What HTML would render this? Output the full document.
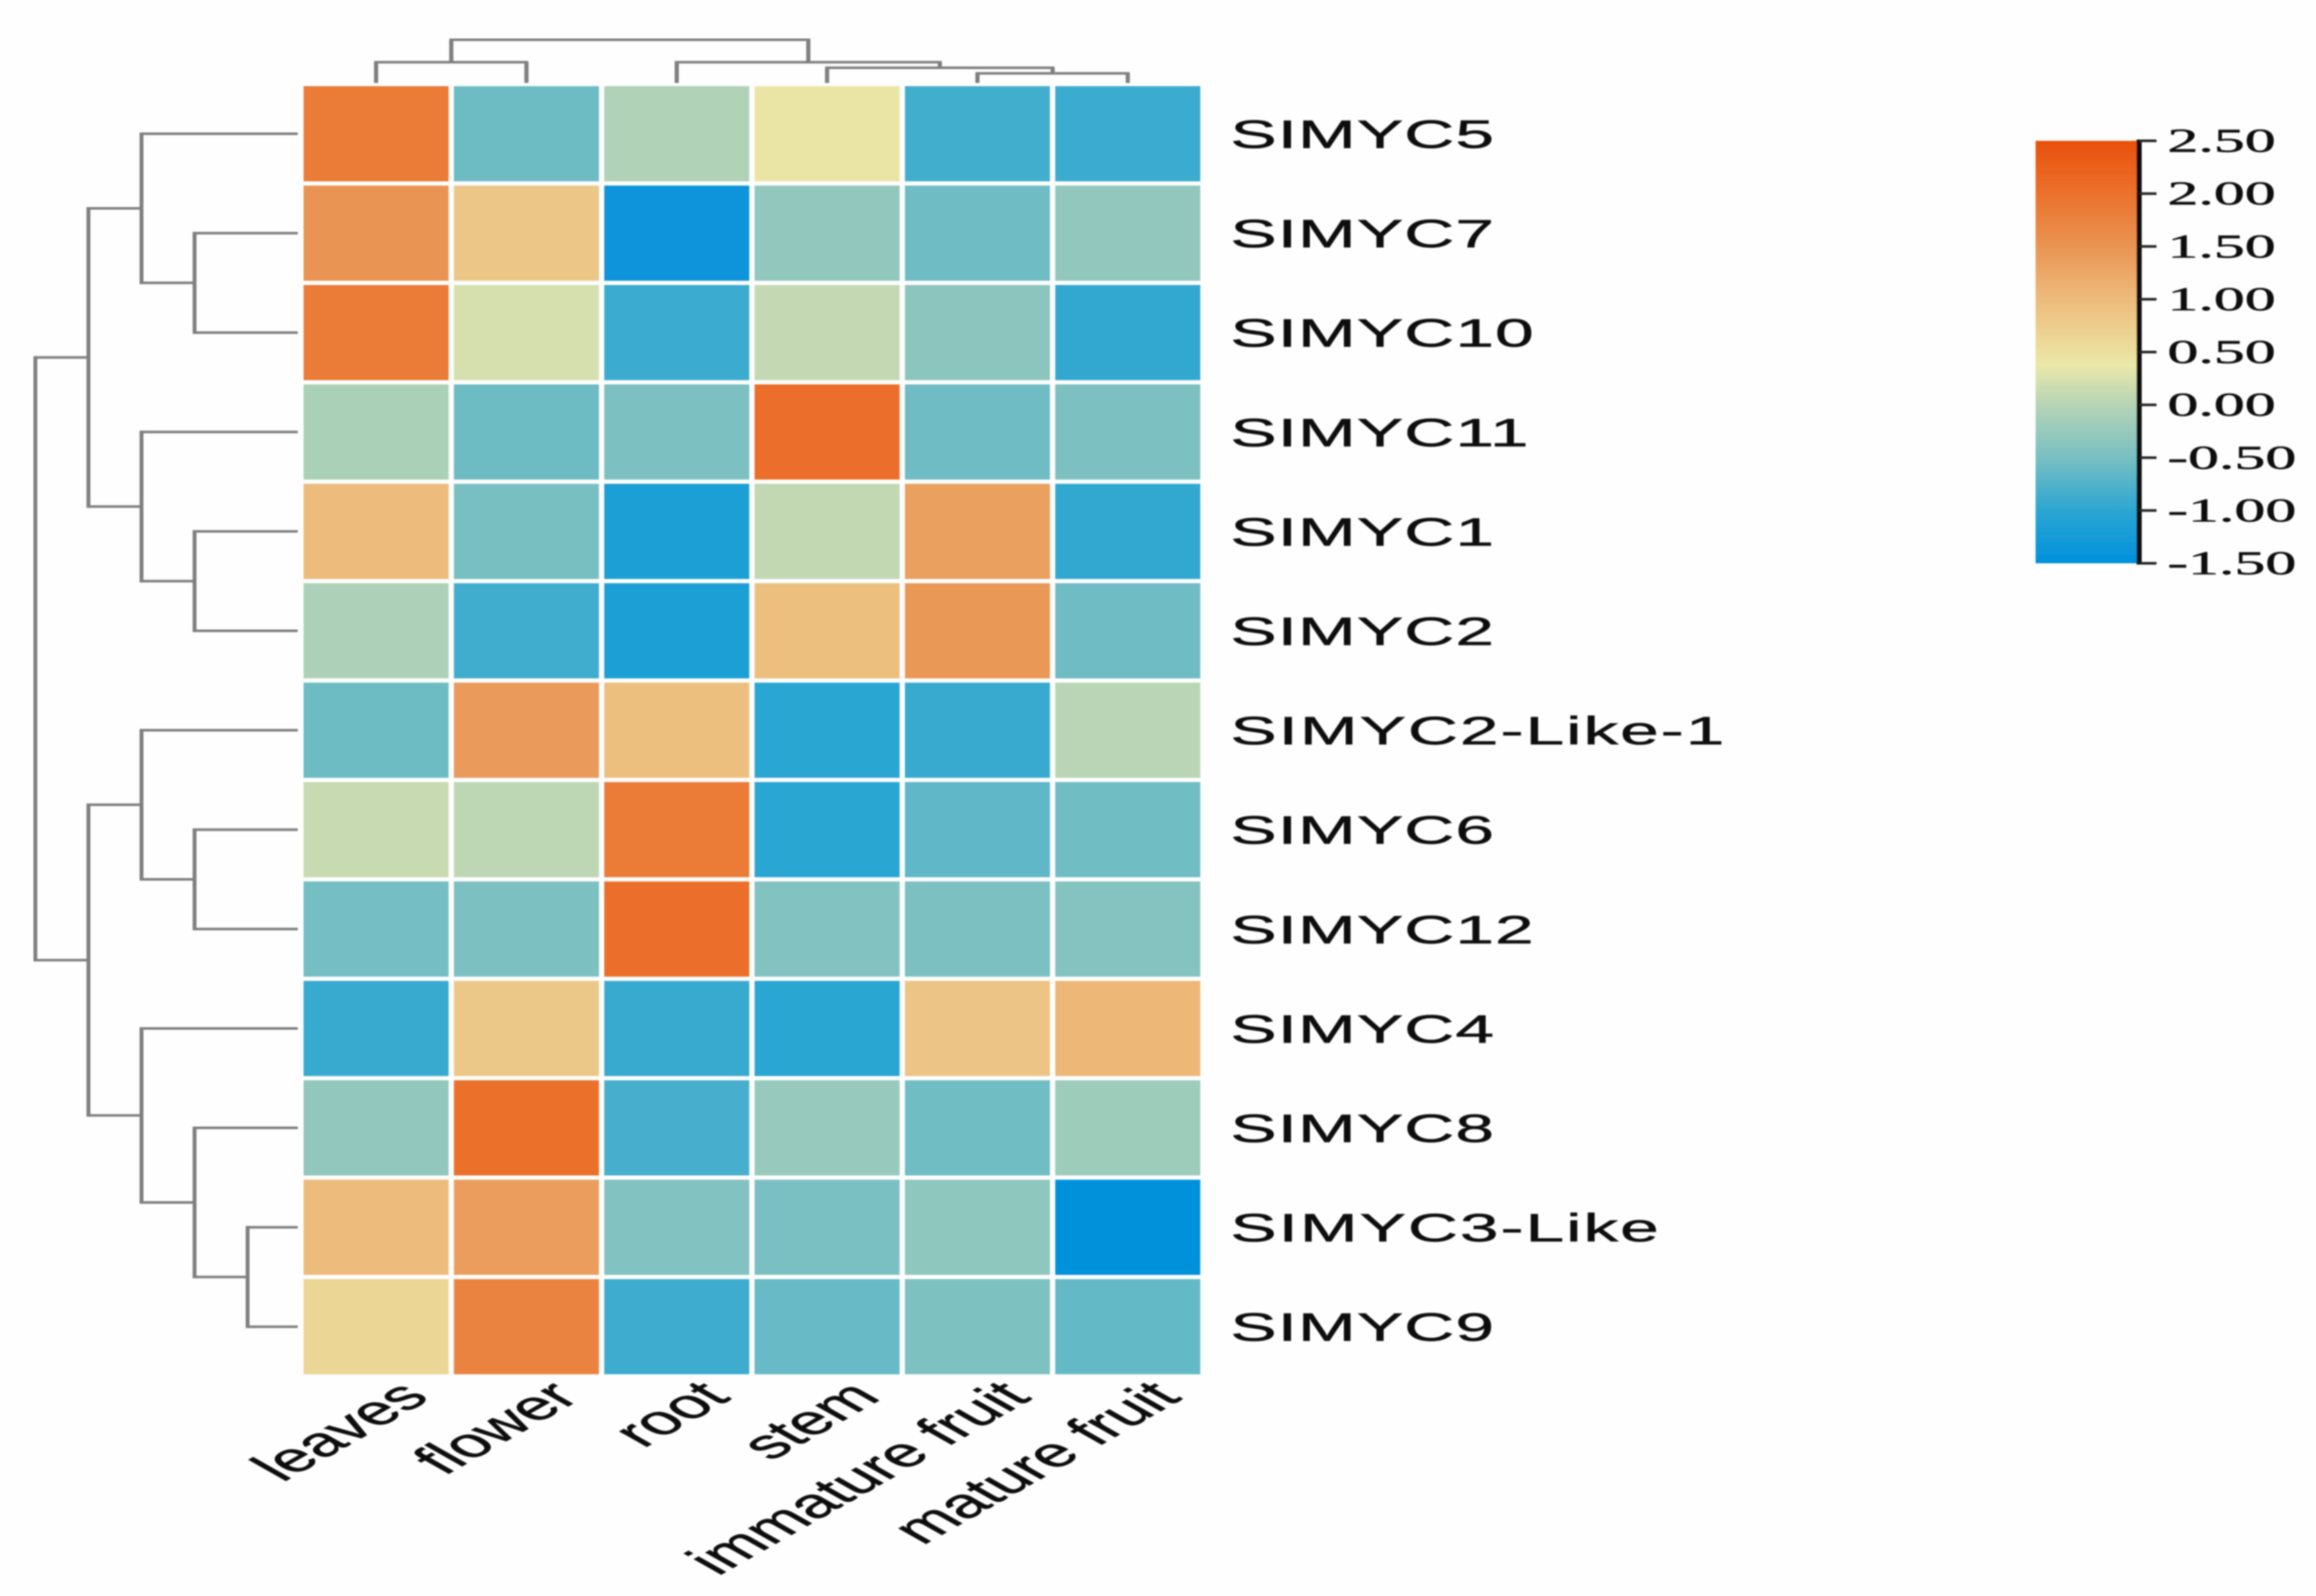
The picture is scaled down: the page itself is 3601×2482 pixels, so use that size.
<!DOCTYPE html>
<html lang="en">
<head>
<meta charset="utf-8">
<title>SlMYC expression heatmap</title>
<style>
html,body{margin:0;padding:0;background:#fff;}
svg{display:block;}
text{font-family:"Liberation Sans",sans-serif;fill:#111;stroke:#111;stroke-width:0.7px;}
</style>
</head>
<body>
<svg id="chart" xmlns="http://www.w3.org/2000/svg" width="3601" height="2482" viewBox="0 0 3601 2482">
  <defs>
    <filter id="soft" x="-5%" y="-5%" width="110%" height="110%"><feGaussianBlur stdDeviation="1.1"/></filter>
    <linearGradient id="cbar" x1="0" y1="1" x2="0" y2="0"></linearGradient>
  </defs>
  <rect x="0" y="0" width="3601" height="2482" fill="#fefefe"/>
  <g id="cells" filter="url(#soft)"></g>
  <g id="rowTree" filter="url(#soft)"></g>
  <g id="colTree" filter="url(#soft)"></g>
  <g id="rowLabels" filter="url(#soft)"></g>
  <g id="colLabels" filter="url(#soft)"></g>
  <g id="legend" filter="url(#soft)"></g>
</svg>
<script>
// ---- data ----
const genes = ["SIMYC5","SIMYC7","SIMYC10","SIMYC11","SIMYC1","SIMYC2","SIMYC2-Like-1","SIMYC6","SIMYC12","SIMYC4","SIMYC8","SIMYC3-Like","SIMYC9"];
const tissues = ["leaves","flower","root","stem","immature fruit","mature fruit"];
const valuesSIMYC5 = [1.85,-0.57,-0.05,0.42,-0.85,-0.9];
const valuesSIMYC7 = [1.5,0.85,-1.42,-0.3,-0.56,-0.3];
const valuesSIMYC10 = [1.85,0.22,-0.9,0.1,-0.35,-0.97];
const valuesSIMYC11 = [-0.1,-0.57,-0.47,2.05,-0.56,-0.47];
const valuesSIMYC1 = [1.0,-0.5,-1.15,0.08,1.35,-0.97];
const valuesSIMYC2 = [-0.07,-0.87,-1.15,0.95,1.45,-0.56];
const valuesSIMYC2L1 = [-0.57,1.42,0.95,-1.0,-0.93,0.02];
const valuesSIMYC6 = [0.12,0.05,1.85,-1.0,-0.67,-0.55];
const valuesSIMYC12 = [-0.52,-0.47,2.05,-0.42,-0.47,-0.4];
const valuesSIMYC4 = [-0.93,0.82,-0.93,-1.0,0.87,1.05];
const valuesSIMYC8 = [-0.3,2.0,-0.83,-0.25,-0.55,-0.2];
const valuesSIMYC3L = [1.0,1.38,-0.42,-0.48,-0.32,-1.47];
const valuesSIMYC9 = [0.62,1.75,-0.88,-0.61,-0.45,-0.63];
const matrix = [valuesSIMYC5,valuesSIMYC7,valuesSIMYC10,valuesSIMYC11,valuesSIMYC1,valuesSIMYC2,valuesSIMYC2L1,valuesSIMYC6,valuesSIMYC12,valuesSIMYC4,valuesSIMYC8,valuesSIMYC3L,valuesSIMYC9];
const legendTicks = [2.5,2,1.5,1,0.5,0,-0.5,-1,-1.5];
const colorValues = [-1.5,-1,-0.5,0,0.38,0.5,1,1.5,2,2.5];
const colorHex = ["#0090dc","#2ca6d2","#78bfc2","#b6d4b6","#ebe8a9","#ebdf9e","#edbb7c","#e99453","#eb712c","#e8500c"];
// Dendrograms: [merge level, child, child]; a bare number is a leaf index.
const rowDendrogram = [5,
  [4,[3,0,[2,1,2]],[3,3,[2,4,5]]],
  [4,[3,6,[2,7,8]],[3,9,[2,10,[1,11,12]]]]];
const colDendrogram = [4,[2,0,1],[2,2,[1.5,3,[1,4,5]]]];

// ---- axis functions ----
const NS = "http://www.w3.org/2000/svg";
const X0 = 472, COL_PITCH = 233.75, CELL_W = 225.5;
const Y0 = 134, ROW_PITCH = 154.6, CELL_H = 148;
const colX = i => X0 + i * COL_PITCH;
const rowY = i => Y0 + i * ROW_PITCH;
const colMid = i => colX(i) + CELL_W / 2;
const rowMid = i => rowY(i) + CELL_H / 2;
const rowLevelX = d => 467.5 - 82.5 * d;
const colLevelY = d => 131.5 - 17.4 * d;
const LEGEND_TOP = 219, LEGEND_BOTTOM = 876;
const legendY = v => LEGEND_TOP + (2.5 - v) / 4 * (LEGEND_BOTTOM - LEGEND_TOP);

function hexRgb(h){return [1,3,5].map(k=>parseInt(h.substr(k,2),16));}
function colorOf(v){
  const n = colorValues.length;
  if (v <= colorValues[0]) return colorHex[0];
  if (v >= colorValues[n-1]) return colorHex[n-1];
  let k = 0;
  while (v > colorValues[k+1]) k++;
  const t = (v - colorValues[k]) / (colorValues[k+1] - colorValues[k]);
  const a = hexRgb(colorHex[k]), b = hexRgb(colorHex[k+1]);
  return "rgb(" + a.map((c,j)=>Math.round(c + (b[j]-c)*t)).join(",") + ")";
}
function make(tag, parent, props){
  const el = document.createElementNS(NS, tag);
  for (const k in props) el.setAttribute(k, props[k]);
  parent.appendChild(el);
  return el;
}

// ---- heatmap ----
const cellsG = document.getElementById("cells");
matrix.forEach((row, r) => row.forEach((v, c) => {
  const el = make("rect", cellsG, {x:colX(c), y:rowY(r), width:CELL_W, height:CELL_H, fill:colorOf(v)});
  
  
}));

// ---- dendrograms ----
const TREE_GRAY = "#7f7f7f";
const rowTreeG = document.getElementById("rowTree");
function drawRowNode(node){
  if (typeof node === "number") return {pos: rowMid(node), x: 463};
  const a = drawRowNode(node[1]), b = drawRowNode(node[2]);
  const x = rowLevelX(node[0]);
  const v = make("line", rowTreeG, {x1:x, x2:x, y1:a.pos-2, y2:b.pos+2, stroke:TREE_GRAY, "stroke-width":6});
  
  
  [a,b].forEach(ch => {
    const h = make("line", rowTreeG, {x1:x, x2:ch.x, y1:ch.pos, y2:ch.pos, stroke:TREE_GRAY, "stroke-width":4});
    
    
  });
  return {pos:(a.pos+b.pos)/2, x:x};
}
drawRowNode(rowDendrogram);

const colTreeG = document.getElementById("colTree");
function drawColNode(node){
  if (typeof node === "number") return {pos: colMid(node), y: 129};
  const a = drawColNode(node[1]), b = drawColNode(node[2]);
  const y = colLevelY(node[0]);
  const h = make("line", colTreeG, {x1:a.pos-3, x2:b.pos+3, y1:y, y2:y, stroke:TREE_GRAY, "stroke-width":4});
  
  
  [a,b].forEach(ch => {
    const v = make("line", colTreeG, {x1:ch.pos, x2:ch.pos, y1:y, y2:ch.y, stroke:TREE_GRAY, "stroke-width":6.5});
    
    
  });
  return {pos:(a.pos+b.pos)/2, y:y};
}
drawColNode(colDendrogram);

// ---- labels ----
const rowLabelsG = document.getElementById("rowLabels");
genes.forEach((g, r) => {
  const spacing = g.indexOf("-") >= 0 ? 1.7 : 0.9;
  const t = make("text", rowLabelsG, {transform:"translate(1913," + (rowMid(r)+22) + ") scale(1.77,1)", "font-size":61, "letter-spacing":spacing});
  t.textContent = g;
  
  
});
const colLabelsG = document.getElementById("colLabels");
tissues.forEach((name, c) => {
  const t = make("text", colLabelsG, {transform:"translate(" + (colMid(c)+86) + ",2175) scale(1.77,1) rotate(-45)", "font-size":64, "text-anchor":"end"});
  t.textContent = name;
  
  
});

// ---- legend ----
const grad = document.getElementById("cbar");
colorValues.forEach((v, k) => {
  make("stop", grad, {offset:(v+1.5)/4, "stop-color":colorHex[k]});
});
const legendG = document.getElementById("legend");
const bar = make("rect", legendG, {x:3165, y:LEGEND_TOP, width:157, height:LEGEND_BOTTOM-LEGEND_TOP, fill:"url(#cbar)"});


const axisLine = make("line", legendG, {x1:3326, x2:3326, y1:LEGEND_TOP-2, y2:LEGEND_BOTTOM+2, stroke:"#111", "stroke-width":8});


legendTicks.forEach(v => {
  const y = legendY(v);
  const tick = make("line", legendG, {x1:3326, x2:3353, y1:y, y2:y, stroke:"#222", "stroke-width":4});
  
  
  const t = make("text", legendG, {transform:"translate(3370," + (y+17) + ") scale(1.85,1)", "font-size":52});
  t.style.fontFamily = '"Liberation Serif",serif';
  t.textContent = v.toFixed(2);
  
  
});
</script>
</body>
</html>
